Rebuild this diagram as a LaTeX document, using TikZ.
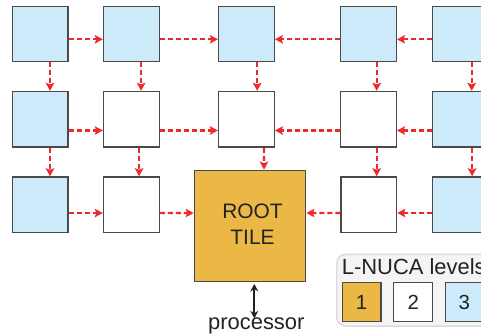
\documentclass[tikz,border=0pt]{standalone}
\usepackage{fontspec}
\setmainfont{Liberation Sans}
\usetikzlibrary{arrows.meta}
\definecolor{tileblue}{HTML}{CCEAF9}
\definecolor{tilegold}{HTML}{EBB846}
\definecolor{tileedge}{HTML}{4A4A4A}
\definecolor{linkred}{HTML}{EE2A2E}
\definecolor{legendfill}{HTML}{F4F4F4}
\definecolor{legendedge}{HTML}{DCDCDC}
\definecolor{ink}{HTML}{222222}
\tikzset{
  tile/.style={draw=tileedge, line width=1.3bp, minimum width=55.7bp, minimum height=55.6bp, inner sep=0pt},
  lvthree/.style={tile, fill=tileblue},
  lvtwo/.style={tile, fill=white},
  roottile/.style={draw=tileedge, line width=1.3bp, fill=tilegold, minimum width=111.4bp, minimum height=111bp, inner sep=0pt},
  link/.style={draw=linkred, line width=2.1bp, dash pattern=on 5bp off 3bp, -{Stealth[length=8bp,width=8.5bp,inset=1.5bp]}},
  lbl/.style={font=\fontsize{22}{26}\selectfont, text=ink},
  keybox/.style={draw=tileedge, line width=1.1bp, minimum width=38.7bp, minimum height=38.6bp, inner sep=0pt, font=\fontsize{20.5}{24}\selectfont, text=ink}
}
\begin{document}
\begin{tikzpicture}[x=1bp,y=-1bp]
\useasboundingbox (0,0) rectangle (481,335);

% legend panel (drawn first, partly off the right edge)
\draw[legendedge, fill=legendfill, line width=1.5bp, rounded corners=9bp] (336.7,254.3) rectangle (510,326);
\node[lbl, anchor=base west, inner sep=0pt] (legtitle) at (341.7,274.3) {L-NUCA levels};
\node[keybox, fill=tilegold] (key1) at (361.6,302) {1};
\node[keybox, fill=white] (key2) at (413.2,302) {2};
\node[keybox, fill=tileblue] (key3) at (464.4,302) {3};

% tile grid
\node[lvthree] (t11) at (40.2,34) {};
\node[lvthree] (t12) at (131.3,34) {};
\node[lvthree] (t13) at (246.4,34) {};
\node[lvthree] (t14) at (368.5,34) {};
\node[lvthree] (t15) at (460.1,34) {};

\node[lvthree] (t21) at (40.2,119.3) {};
\node[lvtwo]   (t22) at (131.3,119.3) {};
\node[lvtwo]   (t23) at (246.4,119.3) {};
\node[lvtwo]   (t24) at (368.5,119.3) {};
\node[lvthree] (t25) at (460.1,119.3) {};

\node[lvthree] (t31) at (40.2,204.7) {};
\node[lvtwo]   (t32) at (131.3,204.7) {};
\node[lvtwo]   (t34) at (368.8,204.7) {};
\node[lvthree] (t35) at (460.1,204.7) {};

\node[roottile] (root) at (250,225.8) {};
\node[font=\fontsize{21}{25.6}\selectfont, text=ink, align=center, inner sep=0pt] (roottext) at (252.5,224) {ROOT\\TILE};

% first row links
\draw[link] ([yshift=-5.3bp]t11.east) -- ([yshift=-5.3bp]t12.west);
\draw[link] ([yshift=-5.3bp]t12.east) -- ([yshift=-5.3bp]t13.west);
\draw[link] ([yshift=-5.3bp]t14.west) -- ([yshift=-5.3bp]t13.east);
\draw[link] ([yshift=-5.3bp]t15.west) -- ([yshift=-5.3bp]t14.east);

% second row links
\draw[link] ([yshift=-11.2bp]t21.east) -- ([yshift=-11.2bp]t22.west);
\draw[link] ([yshift=-11.2bp]t22.east) -- ([yshift=-11.2bp]t23.west);
\draw[link] ([yshift=-11.2bp]t24.west) -- ([yshift=-11.2bp]t23.east);
\draw[link] ([yshift=-11.2bp]t25.west) -- ([yshift=-11.2bp]t24.east);

% third row links
\draw[link] ([yshift=-8.3bp]t31.east) -- ([yshift=-8.3bp]t32.west);
\draw[link] ([yshift=-8.3bp]t32.east) -- ([yshift=12.8bp]root.west);
\draw[link] ([yshift=-8.3bp]t34.west) -- ([yshift=12.8bp]root.east);
\draw[link] ([yshift=-8.3bp]t35.west) -- ([yshift=-8.3bp]t34.east);

% links from row 1 down to row 2
\draw[link] ([xshift=9.8bp]t11.south) -- ([xshift=9.8bp]t21.north);
\draw[link] ([xshift=9.8bp]t12.south) -- ([xshift=9.8bp]t22.north);
\draw[link] ([xshift=10.8bp]t13.south) -- ([xshift=10.8bp]t23.north);
\draw[link] ([xshift=8.2bp]t14.south) -- ([xshift=8.2bp]t24.north);
\draw[link] ([xshift=11.6bp]t15.south) -- ([xshift=11.6bp]t25.north);

% links from row 2 down to row 3
\draw[link] ([xshift=9.8bp]t21.south) -- ([xshift=9.8bp]t31.north);
\draw[link] ([xshift=7.8bp]t22.south) -- ([xshift=7.8bp]t32.north);
\draw[link] ([xshift=17.6bp]t23.south) -- ([xshift=14bp]root.north);
\draw[link] ([xshift=8.2bp]t24.south) -- ([xshift=7.9bp]t34.north);
\draw[link] ([xshift=12bp]t25.south) -- ([xshift=12bp]t35.north);

% processor port
\node[lbl, anchor=base, inner sep=1bp] (proc) at (256.3,329.3) {processor};
\draw[line width=2bp, ink, {Stealth[length=7.5bp,width=8bp]}-{Stealth[length=7.5bp,width=8bp]}]
  ([xshift=4.3bp,yshift=-2bp]root.south) -- ([xshift=4.3bp,yshift=-2bp]root.south |- proc.north);
\end{tikzpicture}
\end{document}
